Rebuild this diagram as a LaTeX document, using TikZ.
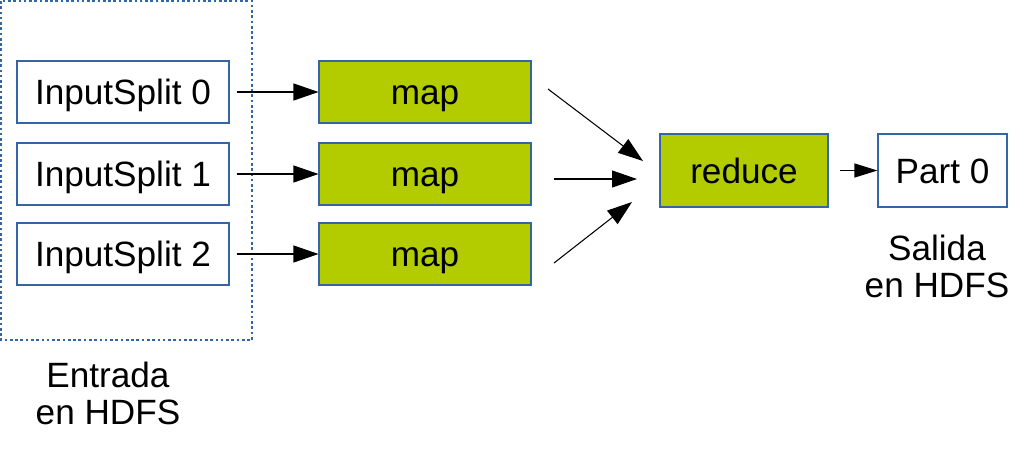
\documentclass[tikz,border=0pt]{standalone}
\usepackage{fontspec}
\setmainfont{Liberation Sans}
\usetikzlibrary{arrows.meta}

\definecolor{borde}{HTML}{3465A4}
\definecolor{verde}{HTML}{B2CC00}

\tikzset{
    caja/.style = {draw=borde, line width=0.6pt, fill=white, font=\fontsize{20}{21}\selectfont,
                   minimum width=4.24cm, minimum height=1.24cm, inner sep=0pt,
                   text height=14.3pt, text depth=0pt},
    tarea/.style = {caja, fill=verde},
    flecha/.style = {draw, line width=0.6pt, -{Triangle[length=0.5cm, width=0.34cm]}},
    etiqueta/.style = {font=\fontsize{20}{21}\selectfont, align=center}
}

\begin{document}
\begin{tikzpicture}
            \useasboundingbox (0, 0) rectangle (20.48, -9.02);

            % entrada en HDFS
            \draw[borde, line width=0.6pt, dash pattern=on 1.5pt off 1.5pt] (0.02, -0.02) rectangle (5.04, -6.8);

            {
                \node[caja] (in0) at (2.46, -1.84) {InputSplit 0};
                \node[caja] (in1) at (2.46, -3.48) {InputSplit 1};
                \node[caja] (in2) at (2.46, -5.08) {InputSplit 2};

                \node[tarea] (map0) at (8.5, -1.84) {map};
                \node[tarea] (map1) at (8.5, -3.48) {map};
                \node[tarea] (map2) at (8.5, -5.08) {map};

                \node[tarea, minimum width=3.36cm, minimum height=1.46cm] (reduce) at (14.88, -3.41) {reduce};
                \node[caja, minimum width=2.58cm, minimum height=1.46cm] (part0) at (18.85, -3.41) {Part 0};
            }

            \node[etiqueta] (entrada) at (2.16, -7.86) {Entrada\\en HDFS};
            \node[etiqueta] (salida) at (18.74, -5.32) {Salida\\en HDFS};

            % extremos sueltos de las flechas hacia reduce
            \coordinate (s0) at (10.96, -1.78);
            \coordinate (e0) at (12.86, -3.22);
            \coordinate (s1) at (11.08, -3.58);
            \coordinate (e1) at (12.74, -3.58);
            \coordinate (s2) at (11.08, -5.26);
            \coordinate (e2) at (12.64, -4.04);

            \draw[flecha, shorten <=0.14cm] (in0) -- (map0);
            \draw[flecha, shorten <=0.14cm] (in1) -- (map1);
            \draw[flecha, shorten <=0.14cm] (in2) -- (map2);

            \draw[flecha] (s0) -- (e0);
            \draw[flecha] (s1) -- (e1);
            \draw[flecha] (s2) -- (e2);

            \draw[flecha, -{Triangle[length=0.46cm, width=0.28cm]}, shorten <=0.22cm] (reduce) -- (part0);

        \end{tikzpicture}
\end{document}
